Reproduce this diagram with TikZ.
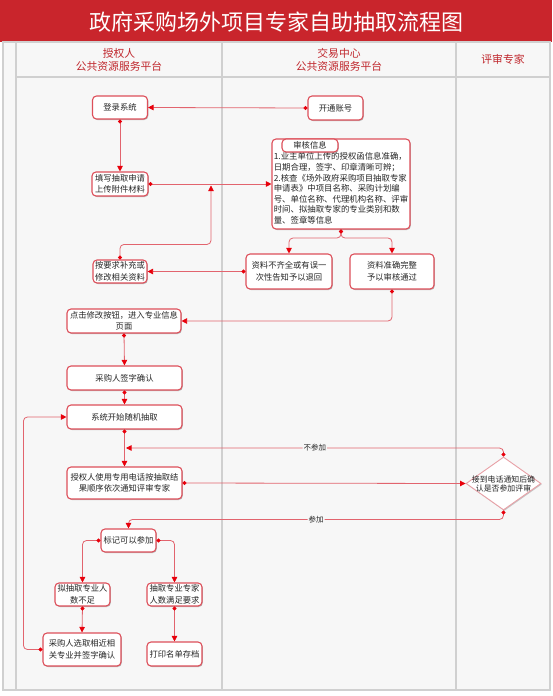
\documentclass[tikz,border=0pt]{standalone}
\usepackage{fontspec}
\setmainfont{Noto Sans CJK SC}
\usetikzlibrary{arrows.meta,shapes.geometric,shadows,calc}
\definecolor{titlered}{HTML}{C9252C}
\definecolor{hdrred}{HTML}{C0282E}
\definecolor{bgc}{HTML}{F7F7F7}
\definecolor{framec}{HTML}{D0D0D0}
\definecolor{boxred}{HTML}{DD4F5A}
\definecolor{linepink}{HTML}{E2646E}
\definecolor{tipred}{HTML}{E8000B}
\definecolor{diapink}{HTML}{E8A0A6}
\definecolor{txt}{HTML}{262626}
\tikzset{
  box/.style={draw=boxred, line width=1.1pt, fill=white, rounded corners=4pt, inner sep=1pt,
    align=center, text=txt, font=\fontsize{8.3}{11.5}\selectfont,
    drop shadow={shadow xshift=0.8pt, shadow yshift=-1pt, opacity=0.25, fill=black}},
  conn/.style={draw=linepink, line width=0.8pt, rounded corners=4pt,
    {Circle[length=4pt,color=tipred]}-{Triangle[length=5.5pt,width=5.5pt,color=tipred]}},
  lbl/.style={fill=bgc, inner sep=1pt, text=txt, font=\fontsize{7.5}{9}\selectfont},
  hdr/.style={text=hdrred, align=center, font=\fontsize{10.8}{13}\selectfont},
  framel/.style={draw=framec, line width=1.4pt}
}
\begin{document}
\begin{tikzpicture}[x=1pt,y=-1pt]
\useasboundingbox (0,0) rectangle (552,696);
% title and frame
\fill[titlered] (0,0) rectangle (552,42);
\node[text=white, font=\fontsize{22}{24}\selectfont] (title) at (276,22) {政府采购场外项目专家自助抽取流程图};
\filldraw[fill=bgc, framel] (3,42) rectangle (550,690);
\draw[framel] (16,42) -- (16,690);
\draw[framel] (222,42) -- (222,690);
\draw[framel] (456,42) -- (456,690);
\draw[framel] (16,77) -- (550,77);
\node[hdr] (h1) at (119,59.5) {授权人\\公共资源服务平台};
\node[hdr] (h2) at (339,59.5) {交易中心\\公共资源服务平台};
\node[hdr] (h3) at (503,59.5) {评审专家};
% nodes
\node[box, minimum width=55pt, minimum height=23pt] (login) at (120,107.5) {登录系统};
\node[box, minimum width=55pt, minimum height=24pt] (open) at (335.5,108) {开通账号};
\node[box, minimum width=56pt, minimum height=24pt] (fillin) at (120,184) {填写抽取申请\\上传附件材料};
\node[box, minimum width=138pt, minimum height=90pt] (check) at (341,184) {};
\node[text=txt, align=left, inner sep=0pt, font=\fontsize{8.4}{10.6}\selectfont] (checktxt) at (341,188.5)
 {1.业主单位上传的授权函信息准确，\\日期合理，签字、印章清晰可辨；\\2.核查《场外政府采购项目抽取专家\\申请表》中项目名称、采购计划编\\号、单位名称、代理机构名称、评审\\时间、拟抽取专家的专业类别和数\\量、签章等信息};
\node[box, minimum width=56pt, minimum height=13pt, inner sep=0pt, font=\fontsize{8.3}{9}\selectfont] (tab) at (310,145.5) {审核信息};
\node[box, minimum width=54pt, minimum height=23pt] (supp) at (120,271.5) {按要求补充或\\修改相关资料};
\node[box, minimum width=86pt, minimum height=35pt] (reject) at (289,271.5) {资料不齐全或有误一\\次性告知予以退回};
\node[box, minimum width=84pt, minimum height=35pt] (pass) at (392,271.5) {资料准确完整\\予以审核通过};
\node[box, minimum width=114pt, minimum height=24pt] (click) at (124,321) {点击修改按钮，进入专业信息\\页面};
\node[box, minimum width=115pt, minimum height=24pt] (sign) at (124.5,378) {采购人签字确认};
\node[box, minimum width=115pt, minimum height=24pt] (rand) at (124.5,417) {系统开始随机抽取};
\node[box, minimum width=115pt, minimum height=32pt] (notify) at (124.5,483) {授权人使用专用电话按抽取结\\果顺序依次通知评审专家};
\node[diamond, draw=diapink, line width=0.9pt, fill=white, minimum width=75pt, minimum height=53pt, inner sep=0pt,
  drop shadow={shadow xshift=0.8pt, shadow yshift=-1pt, opacity=0.2, fill=black}] (dia) at (503.5,483.5) {};
\node[text=txt, align=center, inner sep=0pt, font=\fontsize{7.9}{9}\selectfont] (diatxt) at (dia.center) {接到电话通知后确\\认是否参加评审};
\node[box, minimum width=55pt, minimum height=23pt] (mark) at (128.5,540.5) {标记可以参加};
\node[box, minimum width=55pt, minimum height=23pt] (lack) at (82.5,594.5) {拟抽取专业人\\数不足};
\node[box, minimum width=55pt, minimum height=23pt] (enough) at (174.5,594.5) {抽取专业专家\\人数满足要求};
\node[box, minimum width=78pt, minimum height=33pt] (select) at (82,649.5) {采购人选取相近相\\关专业并签字确认};
\node[box, minimum width=55pt, minimum height=24pt] (print) at (174.5,654) {打印名单存档};
% connectors
\coordinate (joinA) at (211,185.5);
\coordinate (split) at (341,238);
\coordinate (np) at (126,448);
\draw[conn] (open.west) -- (login.east);
\draw[conn] (login.south) -- (fillin.north);
\draw[conn] (fillin.east) -- (check.west);
\draw[conn] (supp.north) -- ++(0,-15) -| (joinA);
\draw[conn] (check.south) -- (split) -| (reject.north);
\draw[conn] (check.south) -- (split) -| (pass.north);
\draw[conn] (reject.west) -- (supp.east);
\draw[conn] (pass.south) |- (click.east);
\draw[conn] (click.south) -- (sign.north);
\draw[conn] (sign.south) -- (rand.north);
\draw[conn] (select.west) -- ++(-19,0) |- (rand.west);
\draw[conn] (rand.south) -- (notify.north);
\draw[conn] (notify.east) -- (dia.west);
\draw[conn] (dia.north) |- node[lbl, pos=0.75] {不参加} (np);
\draw[conn] (dia.south) -- ++(0,9) -| node[lbl, pos=0.25] {参加} (mark.north);
\draw[conn] (mark.west) -| (lack.north);
\draw[conn] (mark.east) -| (enough.north);
\draw[conn] (lack.south) -- (select.north);
\draw[conn] (enough.south) -- (print.north);
\end{tikzpicture}
\end{document}
